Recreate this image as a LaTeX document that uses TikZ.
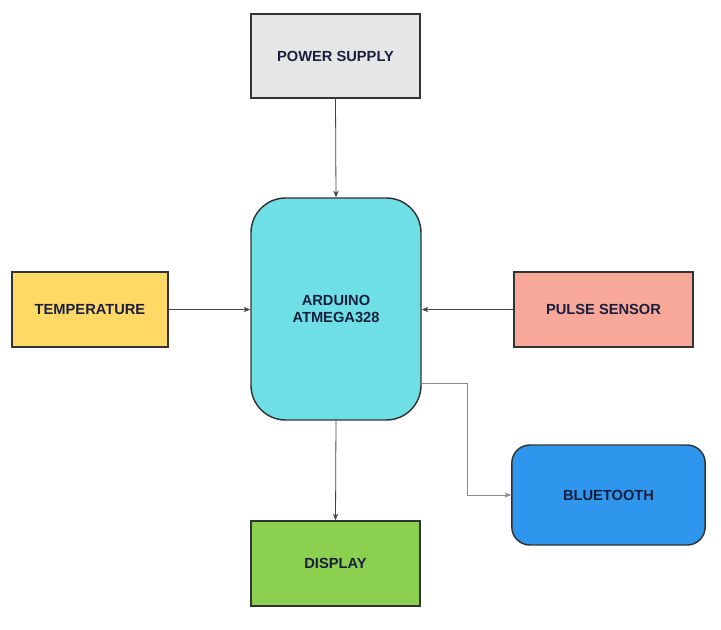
\documentclass[tikz,border=0pt]{standalone}
\usepackage{fontspec}
\setmainfont{Liberation Sans}
\usetikzlibrary{arrows.meta,calc}

\definecolor{psgray}{HTML}{E6E6E6}
\definecolor{tempyellow}{HTML}{FFD966}
\definecolor{pulsered}{HTML}{F8A899}
\definecolor{ardcyan}{HTML}{6DDFE5}
\definecolor{btblue}{HTML}{2E96EC}
\definecolor{dispgreen}{HTML}{8CD050}
\definecolor{labelnavy}{HTML}{1A1F40}
\definecolor{wiregray}{HTML}{444444}

\tikzset{
  block/.style={draw=black!80, line width=1.1pt, inner sep=0pt, align=center,
    text=labelnavy, font=\fontsize{11}{13}\selectfont\bfseries},
  wire/.style={draw=wiregray, line width=0.6pt, -{Stealth[length=5pt,width=4pt]}}
}

\begin{document}
\begin{tikzpicture}[x=0.75pt,y=0.75pt,yscale=-1,xscale=1]
\useasboundingbox (0,0) rectangle (721,629);

% Blocks
\node [block, fill=psgray, minimum width=127pt, minimum height=63pt] (power) at (335.5,56) {POWER SUPPLY};
\node [block, fill=ardcyan, rounded corners=26pt, minimum width=127.5pt, minimum height=166.5pt] (ard) at (336,309) {ARDUINO\\ATMEGA328};
\node [block, fill=tempyellow, minimum width=117pt, minimum height=56pt] (temp) at (90,309.5) {TEMPERATURE};
\node [block, fill=pulsered, minimum width=134pt, minimum height=56pt] (pulse) at (603.5,309.5) {PULSE SENSOR};
\node [block, fill=btblue, rounded corners=13.5pt, minimum width=145pt, minimum height=75pt] (bt) at (608.5,495) {BLUETOOTH};
\node [block, fill=dispgreen, minimum width=127pt, minimum height=64pt] (disp) at (335.5,563.5) {DISPLAY};

% Connectors
\draw [wire] (power.south) -- (ard.north);
\draw [wire] (temp.east) -- (temp.east -| ard.west);
\draw [wire] (pulse.west) -- (pulse.west -| ard.east);
\draw [wire] (ard.south) -- (disp.north);
\draw [wire, draw=black!45] ($(ard.east)+(0,74)$) -- ++(46,0) |- (bt.west);
\end{tikzpicture}
\end{document}
